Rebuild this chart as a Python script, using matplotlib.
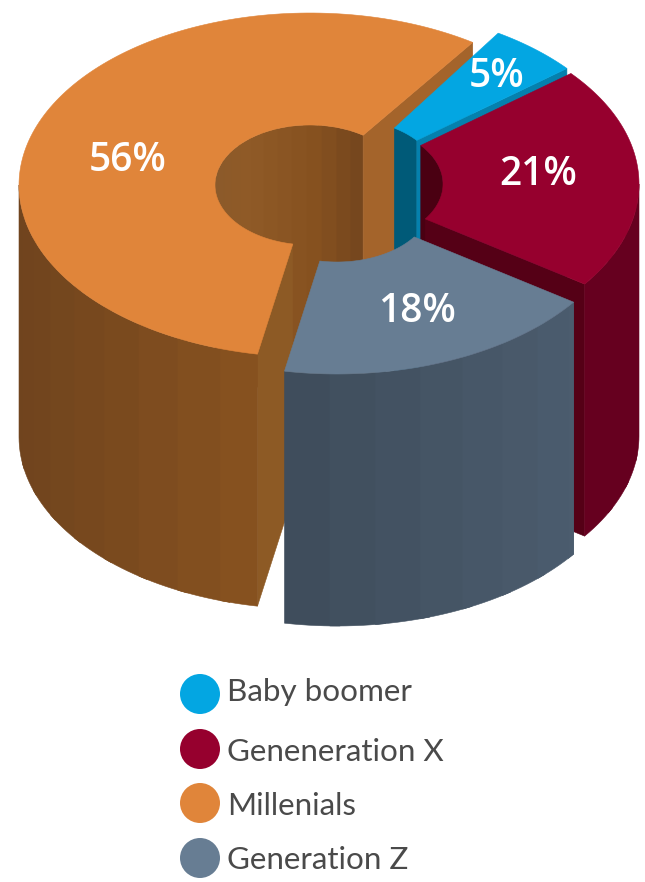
import numpy as np
import matplotlib
matplotlib.use('Agg')
import matplotlib.pyplot as plt
from matplotlib.colors import to_rgb
from matplotlib.patches import Polygon, Circle

# Data
categories = ['Baby boomer', 'Geneneration X', 'Millenials', 'Generation Z']
shares = [5, 21, 56, 18]
share_labels = ['5%', '21%', '56%', '18%']

# Colours, same order as categories
top_colors = ['#03a6e2', '#96002e', '#e0853a', '#677d93']
cut_colors = ['#0580ad', '#550016', '#a4642b', '#8d5a25']
inner_colors = ['#005a78', '#4a0012', '#8d5a28', '#000000']
wall_left = ['#0580ad', '#66001f', '#70441e', '#3e4c5a']
wall_right = ['#0580ad', '#66001f', '#88521f', '#4b5c6e']
hole_stops = ['#74461e', '#85501f', '#8f5a27', '#8a5a2c']

# Projection of the ring, in picture pixels
cx, cy = 310, 186
rx, ry = 291, 172
hole_rx, hole_ry = 95, 60
depth = 252
start_angle = 58  # blue starts here and slices run clockwise
orange_pad = 2  # the orange slice is drawn a touch wider than its share
offsets = [(34, -7), (38, -2), (0, -1), (27, 16)]
label_pos = [(497, 77), (538, 175), (128, 161), (417, 312)]


def ring_point(t, a, b, off):
    r = np.radians(t)
    return np.column_stack([cx + off[0] + a * np.cos(r), cy + off[1] - b * np.sin(r)])


def mix(c1, c2, f):
    return tuple((1 - f) * np.array(to_rgb(c1)) + f * np.array(to_rgb(c2)))


def poly(ax, pts, color, z):
    ax.add_patch(Polygon(pts, closed=True, facecolor=color, edgecolor=color, lw=0.4, zorder=z))


def wall(ax, lo, hi, a, b, off, color_at, z):
    # vertical bands, slightly stepped like the original shading
    edges = np.append(np.arange(lo, hi, 9.0), hi)
    for t0, t1 in zip(edges[:-1], edges[1:]):
        # each band runs a little under the next one so no seam shows
        arc = ring_point(np.linspace(t0, min(t1 + 2, hi), 8), a, b, off)
        low = arc[::-1] + [0, depth]
        poly(ax, np.vstack([arc, low]), color_at((t0 + t1) / 2), z)


def hole_color(t):
    return tuple(np.interp(t, [58, 85, 130, 180], [to_rgb(s)[k] for s in hole_stops]) for k in range(3))


# Angle span of each slice, clockwise from start_angle: blue, red, gray, orange
spans = np.array(shares) / sum(shares) * 360
bounds = {}
angle = start_angle
for i in [0, 1, 3, 2]:
    bounds[i] = (angle - spans[i], angle)
    angle -= spans[i]
bounds[2] = (bounds[2][0] + 360 - orange_pad, bounds[2][1] + 360)

fig = plt.figure(figsize=(6.45, 8.82), dpi=100)
ax = fig.add_axes([0, 0, 1, 1])
ax.set_xlim(0, 645)
ax.set_ylim(882, 0)
ax.axis('off')

z = 1
for i in [2, 0, 1, 3]:  # back to front
    lo, hi = bounds[i]
    off = offsets[i]

    # inner wall seen through the hole
    if i != 3:
        a0, a1 = max(lo, 0), min(hi, 180)
        if i == 2:
            wall(ax, a0, a1, hole_rx, hole_ry, off, hole_color, z)
        else:
            wall(ax, a0, a1, hole_rx, hole_ry, off, lambda t, c=inner_colors[i]: c, z)
    z += 1

    # cut faces
    for t in (lo, hi):
        normal = t - 90 if t == lo else t + 90
        if np.sin(np.radians(normal)) < 0:
            p_in = ring_point(np.array([t]), hole_rx, hole_ry, off)[0]
            p_out = ring_point(np.array([t]), rx, ry, off)[0]
            color = cut_colors[i]
            if i == 2 and t == hi:
                color = cut_colors[3]
            poly(ax, [p_in, p_out, p_out + [0, depth], p_in + [0, depth]], color, z)
            z += 1

    # outer wall, front half only
    w_range = {2: (180, hi), 3: (lo, hi), 1: (lo, 0)}.get(i)
    if w_range:
        x0 = np.cos(np.radians(w_range[0]))
        x1 = np.cos(np.radians(w_range[1]))
        def outer_color(t, i=i, x0=x0, x1=x1):
            f = (np.cos(np.radians(t)) - x0) / (x1 - x0)
            return mix(wall_left[i], wall_right[i], np.clip(f, 0, 1))
        wall(ax, w_range[0], w_range[1], rx, ry, off, outer_color, z)
        z += 1

    # top face
    ts = np.linspace(lo, hi, 160)
    pts = np.vstack([ring_point(ts, rx, ry, off), ring_point(ts[::-1], hole_rx, hole_ry, off)])
    poly(ax, pts, top_colors[i], z)
    z += 1

# Percent labels
for lab, (x, y) in zip(share_labels, label_pos):
    ax.text(x, y, lab, color='white', fontsize=28, fontweight='semibold', family='Open Sans',
            ha='center', va='center', zorder=z)

# Legend
legend_y = [694, 749, 803, 858]
text_y = [701, 761, 815, 869]
for c, name, y, ty in zip(top_colors, categories, legend_y, text_y):
    ax.add_patch(Circle((200, y), 20, facecolor=c, edgecolor='none', zorder=z))
    ax.text(227, ty, name, color='#4a4a4a', fontsize=22.6, family='Lato', ha='left', va='baseline', zorder=z)

fig.savefig('out.png', dpi=100)
